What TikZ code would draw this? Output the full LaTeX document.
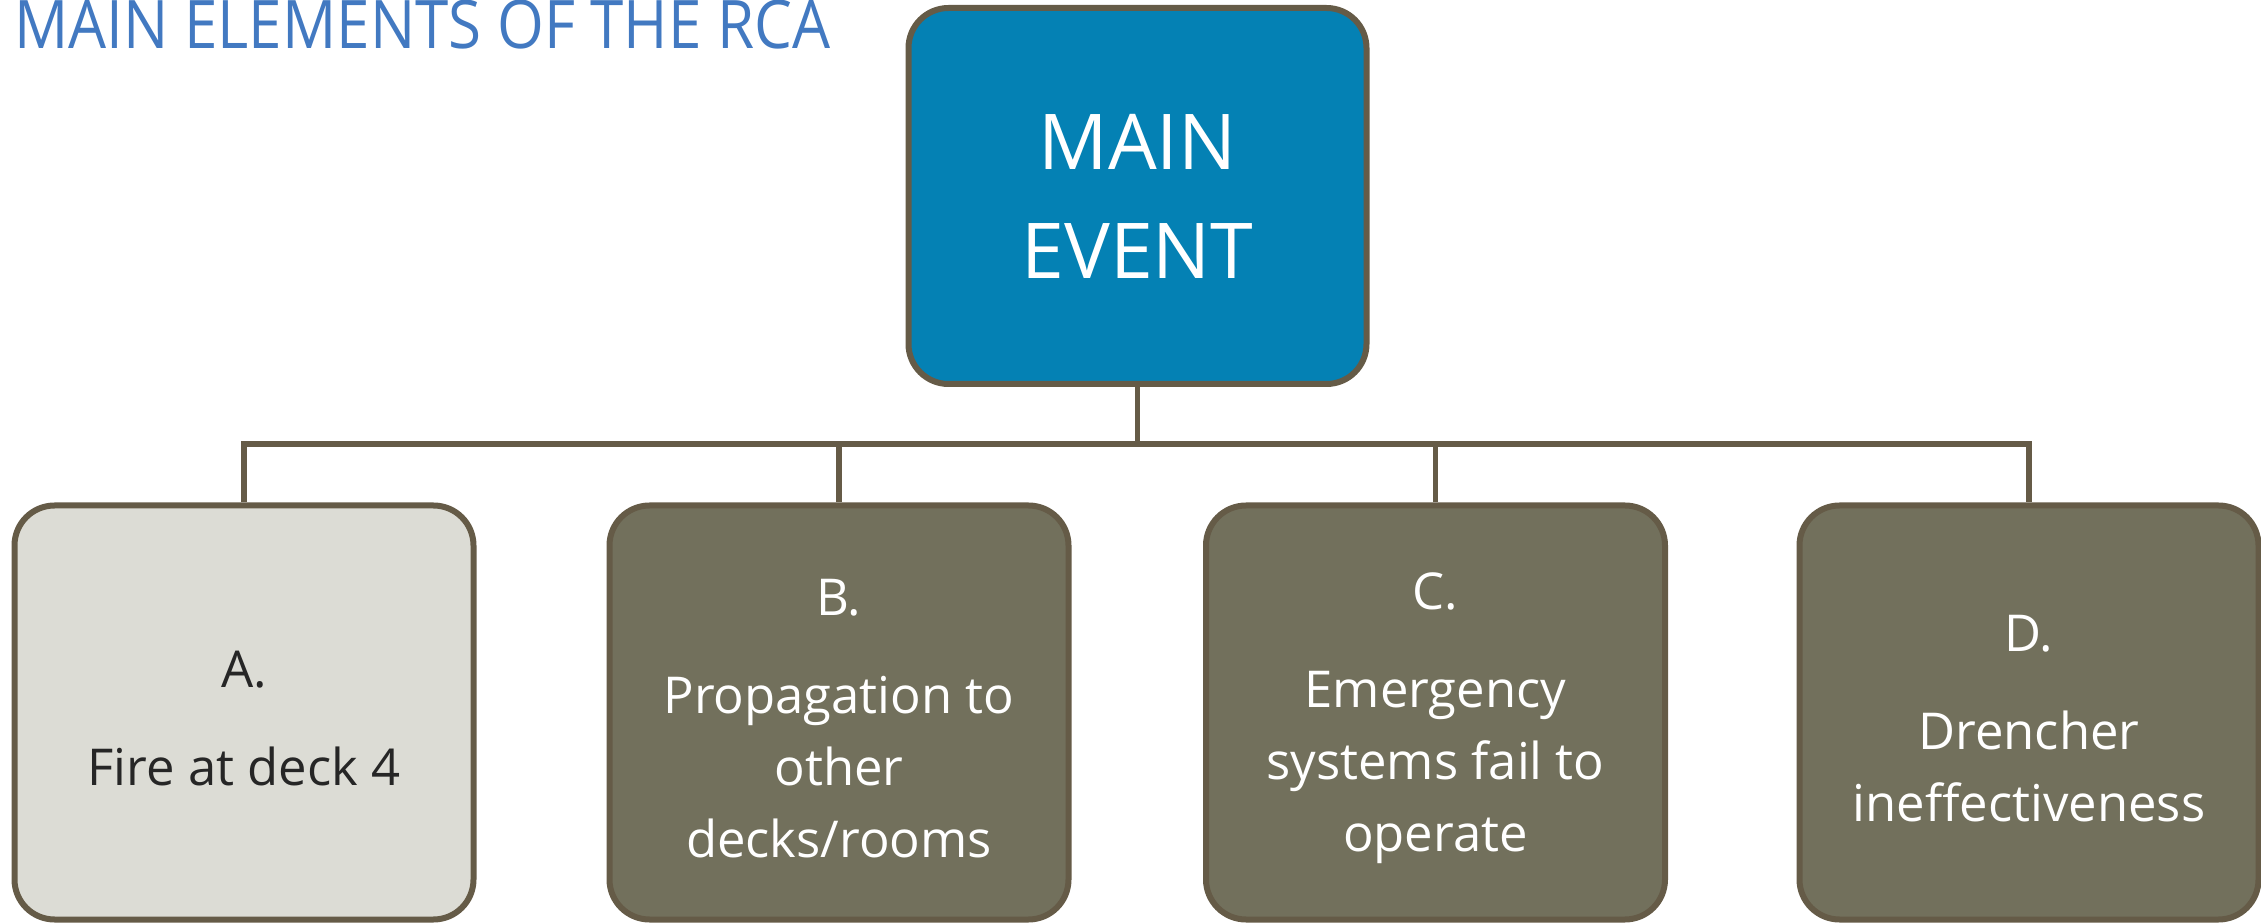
\documentclass[tikz,border=0pt]{standalone}
\usepackage{fontspec}
\usepackage{graphicx}
\setmainfont{Open Sans}
\definecolor{mainblue}{HTML}{0481B4}
\definecolor{frame}{HTML}{655B47}
\definecolor{olive}{HTML}{72705C}
\definecolor{pale}{HTML}{DCDCD5}
\definecolor{titleblue}{HTML}{4279C1}
\definecolor{darktext}{HTML}{262626}
% taller first line pushes each card's text block slightly downwards
\newcommand{\toprule}{\rule{0pt}{24pt}}
\begin{document}
\begin{tikzpicture}[x=0.5pt,y=-0.5pt,
  boxbase/.style={draw=frame, line width=3pt, rounded corners=20pt,
    inner sep=0pt, align=center},
  mainbox/.style={boxbase, fill=mainblue, text=white,
    minimum width=229pt, minimum height=188pt,
    font=\fontsize{38.5}{54.5}\selectfont},
  card/.style={boxbase, minimum width=229.5pt, minimum height=207pt,
    font=\fontsize{25.4}{36}\selectfont},
  darkcard/.style={card, fill=olive, text=white},
  palecard/.style={card, fill=pale, text=darktext},
  wire/.style={draw=frame, line width=2.75pt}]
\useasboundingbox (0,0) rectangle (2261,924);

% heading
\node[anchor=base west, inner sep=0pt, text=titleblue,
  font=\fontsize{33.5}{36}\selectfont] (title) at (14,49)
  {\scalebox{0.897}[1]{MAIN ELEMENTS OF THE RCA}};

% top event
\node[mainbox] (main) at (1137.5,196) {MAIN\\EVENT};

% contributing branches
\node[palecard] (A) at (244,712.5) {\toprule A.\\[13pt]Fire at deck 4};
\node[darkcard] (B) at (839,712.5) {\toprule B.\\[13pt]Propagation to\\other\\decks/rooms};
\node[darkcard] (C) at (1435.5,712.5) {\toprule C.\\[13pt]Emergency\\systems fail to\\operate};
\node[darkcard] (D) at (2029,712.5) {\toprule D.\\[13pt]Drencher\\ineffectiveness};

% tree connectors
\coordinate (bus) at (1137.5,444);
\draw[wire] (main.south) -- (main.south |- bus);
\draw[wire] (A.north) -- (A.north |- bus) -- (D.north |- bus) -- (D.north);
\draw[wire] (B.north) -- (B.north |- bus);
\draw[wire] (C.north) -- (C.north |- bus);
\end{tikzpicture}
\end{document}
